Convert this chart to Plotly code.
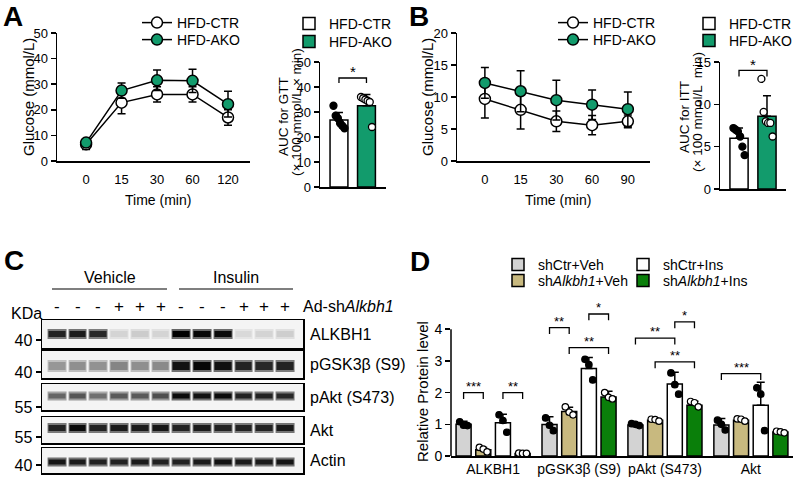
import numpy as np
import plotly.graph_objects as go

W, H = 796, 477
FONT = "Liberation Sans, Arial, Helvetica, sans-serif"
GREEN_A = "#129b6c"
GRAY_D = "#d3d3d3"
TAN_D = "#c8b97f"
GREEN_D = "#0a7f0a"

# ---------------- Panel A : GTT ----------------
GTT_TIME = ["0", "15", "30", "60", "120"]
GTT_CTR = [6.5, 22.8, 26.0, 26.0, 17.0]
GTT_CTR_ERR = [2.0, 4.3, 3.0, 3.0, 3.0]
GTT_AKO = [7.2, 27.5, 31.5, 31.3, 22.2]
GTT_AKO_ERR = [1.0, 3.0, 4.0, 4.5, 5.0]
GTT_SIG = ["", "", "*", "*", ""]

AUC_GROUPS = ["HFD-CTR", "HFD-AKO"]
AUC_GTT_MEAN = [26.8, 32.5]
AUC_GTT_ERR = [3.0, 4.5]
AUC_GTT_CTR_PTS = [32.5, 28.5, 27.5, 25.5, 24.5, 23.5]
AUC_GTT_AKO_PTS = [36.0, 35.5, 35.0, 34.5, 34.0, 24.0]
AUC_GTT_BRACKET = 43.6

# ---------------- Panel B : ITT ----------------
ITT_TIME = ["0", "15", "30", "60", "90"]
ITT_CTR = [9.7, 8.0, 6.2, 5.6, 6.2]
ITT_CTR_ERR = [3.0, 3.0, 1.6, 1.5, 1.0]
ITT_AKO = [12.2, 10.9, 9.5, 8.8, 8.1]
ITT_AKO_ERR = [2.4, 3.2, 3.1, 2.3, 2.7]
ITT_SIG = ["", "", "", "*", "*"]

AUC_ITT_MEAN = [6.0, 8.6]
AUC_ITT_ERR = [1.2, 2.4]
AUC_ITT_CTR_PTS = [7.2, 7.0, 6.8, 6.2, 5.0, 4.0]
AUC_ITT_AKO_PTS = [13.0, 9.1, 8.0, 7.8, 7.8, 6.2]
AUC_ITT_BRACKET = 14.0

# ---------------- Panel C : western blot ----------------
LANES = list(range(1, 13))
AD_SH = ["-", "-", "-", "+", "+", "+", "-", "-", "-", "+", "+", "+"]
BLOT_NAMES = ["ALKBH1", "pGSK3β (S9)", "pAkt (S473)", "Akt", "Actin"]
BLOT_KDA = ["40", "40", "55", "55", "40"]
BLOT_ALKBH1 = [0.85, 0.88, 0.82, 0.12, 0.15, 0.12, 1.0, 0.97, 0.95, 0.10, 0.12, 0.14]
BLOT_PGSK3B = [0.35, 0.38, 0.37, 0.42, 0.38, 0.40, 0.92, 0.97, 0.93, 0.85, 0.82, 0.85]
BLOT_PAKT = [0.55, 0.62, 0.50, 0.60, 0.60, 0.65, 0.95, 0.92, 0.95, 0.85, 0.85, 0.82]
BLOT_AKT = [0.85, 0.95, 0.85, 0.88, 0.88, 0.90, 0.85, 0.88, 0.85, 0.85, 0.85, 0.88]
BLOT_ACTIN = [0.90, 0.88, 0.85, 0.85, 0.88, 0.85, 0.85, 0.88, 0.92, 0.88, 0.88, 0.90]

# ---------------- Panel D : quantification ----------------
D_GROUPS = ["ALKBH1", "pGSK3β (S9)", "pAkt (S473)", "Akt"]
D_CONDS = ["shCtr+Veh", "sh<i>Alkbh1</i>+Veh", "shCtr+Ins", "sh<i>Alkbh1</i>+Ins"]
SHCTR_VEH = [1.0, 0.99, 0.98, 0.98]
SHCTR_VEH_ERR = [0.10, 0.25, 0.04, 0.20]
SHCTR_VEH_PTS = [[1.08, 0.97, 0.96], [1.20, 0.97, 0.80], [1.02, 1.00, 0.96], [1.13, 1.00, 0.82]]
SHALK_VEH = [0.20, 1.40, 1.13, 1.13]
SHALK_VEH_ERR = [0.07, 0.14, 0.05, 0.06]
SHALK_VEH_PTS = [[0.27, 0.22, 0.13], [1.55, 1.38, 1.30], [1.16, 1.15, 1.10], [1.17, 1.16, 1.10]]
SHCTR_INS = [1.05, 2.76, 2.27, 1.60]
SHCTR_INS_ERR = [0.27, 0.35, 0.37, 0.73]
SHCTR_INS_PTS = [[1.30, 1.12, 0.75], [3.05, 2.88, 2.40], [2.62, 2.25, 1.95], [2.15, 1.95, 0.80]]
SHALK_INS = [0.08, 1.86, 1.60, 0.76]
SHALK_INS_ERR = [0.02, 0.18, 0.13, 0.05]
SHALK_INS_PTS = [[0.09, 0.08, 0.08], [2.00, 1.85, 1.80], [1.72, 1.68, 1.55], [0.78, 0.76, 0.73]]
# (group, bar_i, bar_j, level, label)
D_SIG = [
    (0, 0, 1, 2.00, "***"), (0, 2, 3, 2.00, "**"),
    (1, 0, 1, 4.05, "**"), (1, 1, 3, 3.42, "**"), (1, 2, 3, 4.48, "*"),
    (2, 0, 2, 3.72, "**"), (2, 2, 3, 4.23, "*"), (2, 1, 3, 2.97, "**"),
    (3, 0, 2, 2.60, "***"),
]


def PX(p):
    return p / W


def PY(p):
    return 1 - p / H


fig = go.Figure()
ann = []
shapes = []


def text(x, y, s, size=14, xref="paper", yref="paper", xanchor="center", yanchor="middle",
         angle=0, bold=False):
    if bold:
        s = "<b>" + s + "</b>"
    ann.append(dict(x=x, y=y, text=s, xref=xref, yref=yref, showarrow=False,
                    xanchor=xanchor, yanchor=yanchor, textangle=angle,
                    font=dict(size=size, family=FONT, color="black")))


ERR = dict(type="data", color="black", thickness=1.5, width=4)


def line_panel(n, times, ctr, ctr_err, ako, ako_err, sig, legends):
    xa, ya = "x" + n, "y" + n
    fig.add_trace(go.Scatter(x=times, y=ctr, mode="lines+markers", name="HFD-CTR",
                             line=dict(color="black", width=1.5),
                             marker=dict(size=11, color="white", line=dict(color="black", width=1.5)),
                             error_y=dict(ERR, array=ctr_err), xaxis=xa, yaxis=ya, legend=legends[0]))
    fig.add_trace(go.Scatter(x=times, y=ako, mode="lines+markers", name="HFD-AKO",
                             line=dict(color="black", width=1.5),
                             marker=dict(size=11, color=GREEN_A, line=dict(color="black", width=1.5)),
                             error_y=dict(ERR, array=ako_err), xaxis=xa, yaxis=ya, legend=legends[1]))
    return [(t, max(a + ae, c + ce), s) for t, a, ae, c, ce, s in
            zip(times, ako, ako_err, ctr, ctr_err, sig) if s]


def auc_panel(n, means, errs, ctr_pts, ako_pts, bracket, drop, legends):
    xa, ya = "x" + n, "y" + n
    for i, (name, col) in enumerate(zip(AUC_GROUPS, ["white", GREEN_A])):
        fig.add_trace(go.Bar(x=[i], y=[means[i]], width=0.65, name=name,
                             marker=dict(color=col, line=dict(color="black", width=1.5)),
                             error_y=dict(ERR, array=[errs[i]], arrayminus=[0], symmetric=False),
                             xaxis=xa, yaxis=ya, legend=legends[i]))
    for i, (pts, col) in enumerate(zip([ctr_pts, ako_pts], ["black", "white"])):
        off = np.linspace(-0.2, 0.2, len(pts))
        fig.add_trace(go.Scatter(x=i + off, y=pts, mode="markers", showlegend=False,
                                 marker=dict(size=7, color=col, line=dict(color="black", width=1.3)),
                                 xaxis=xa, yaxis=ya))
    fig.add_trace(go.Scatter(x=[0, 0, 1, 1], y=[bracket - drop, bracket, bracket, bracket - drop],
                             mode="lines", line=dict(color="black", width=1.3), showlegend=False,
                             xaxis=xa, yaxis=ya))


AX = dict(showline=True, linecolor="black", linewidth=1.5, ticks="outside", ticklen=5,
          tickwidth=1.5, tickcolor="black", showgrid=False, zeroline=False,
          tickfont=dict(size=13, family=FONT, color="black"))
layout_axes = {}

# ---- A line ----
sigA = line_panel("", GTT_TIME, GTT_CTR, GTT_CTR_ERR, GTT_AKO, GTT_AKO_ERR, GTT_SIG, ["legend", "legend2"])
for t, top, s in sigA:
    text(t, top + 2.2, s, size=15, xref="x", yref="y")
layout_axes["xaxis"] = dict(AX, type="category", categoryarray=GTT_TIME, range=[-0.82, 4.62],
                            ticks="", ticklabelstandoff=6, domain=[PX(57), PX(250)], anchor="y")
layout_axes["yaxis"] = dict(AX, range=[0, 50], dtick=10, domain=[PY(161), PY(33)], anchor="x")

# ---- A AUC ----
auc_panel("2", AUC_GTT_MEAN, AUC_GTT_ERR, AUC_GTT_CTR_PTS, AUC_GTT_AKO_PTS, AUC_GTT_BRACKET, 2.0,
          ["legend3", "legend4"])
text(0.5, AUC_GTT_BRACKET + 2.5, "*", size=15, xref="x2", yref="y2")
layout_axes["xaxis2"] = dict(AX, range=[-0.69, 1.71], ticks="", showticklabels=False,
                             domain=[PX(320), PX(386)], anchor="y2")
layout_axes["yaxis2"] = dict(AX, range=[0, 50], dtick=10, domain=[PY(187), PY(62)], anchor="x2")

# ---- B line ----
sigB = line_panel("3", ITT_TIME, ITT_CTR, ITT_CTR_ERR, ITT_AKO, ITT_AKO_ERR, ITT_SIG, ["legend5", "legend6"])
for t, top, s in sigB:
    text(t, top + 2.4, s, size=15, xref="x3", yref="y3")
layout_axes["xaxis3"] = dict(AX, type="category", categoryarray=ITT_TIME, range=[-0.78, 4.62],
                             ticks="", ticklabelstandoff=6, domain=[PX(457), PX(650)], anchor="y3")
layout_axes["yaxis3"] = dict(AX, range=[0, 20], dtick=5, domain=[PY(161), PY(33)], anchor="x3")

# ---- B AUC ----
auc_panel("4", AUC_ITT_MEAN, AUC_ITT_ERR, AUC_ITT_CTR_PTS, AUC_ITT_AKO_PTS, AUC_ITT_BRACKET, 0.7,
          ["legend7", "legend8"])
text(0.5, AUC_ITT_BRACKET + 0.75, "*", size=15, xref="x4", yref="y4")
layout_axes["xaxis4"] = dict(AX, range=[-0.68, 1.68], ticks="", showticklabels=False,
                             domain=[PX(720), PX(786)], anchor="y4")
layout_axes["yaxis4"] = dict(AX, range=[0, 15], dtick=5, domain=[PY(189), PY(62)], anchor="x4")

# ---- C blots ----
BLOT_DATA = [BLOT_ALKBH1, BLOT_PGSK3B, BLOT_PAKT, BLOT_AKT, BLOT_ACTIN]
# styling: box top, box bottom, band centre, band thickness, kDa tick (pixels)
BLOT_STYLE = [(320, 348, 334, 6, 340), (351, 378, 366, 8, 372), (384, 410, 396, 5, 407),
              (417, 443, 428, 6, 437), (448, 473, 462, 5, 465)]
BLOT_CS = [[0, "#f3f3f3"], [0.5, "#707070"], [1, "#000000"]]
for k, (vals, (top, bot, cen, th, tk), kda, name) in enumerate(zip(BLOT_DATA, BLOT_STYLE, BLOT_KDA, BLOT_NAMES)):
    n = str(5 + k)
    hb = bot - top
    c = cen - top
    fig.add_trace(go.Heatmap(x=LANES, y=[c - th / 2 - 2, c + th / 2 + 2], z=[[v * 0.55 for v in vals]],
                             zmin=0, zmax=1, colorscale=BLOT_CS, showscale=False, xgap=2,
                             hoverinfo="skip", xaxis="x" + n, yaxis="y" + n))
    fig.add_trace(go.Heatmap(x=LANES, y=[c - th / 2, c + th / 2], z=[vals],
                             zmin=0, zmax=1, colorscale=BLOT_CS, showscale=False, xgap=4,
                             hoverinfo="skip", xaxis="x" + n, yaxis="y" + n))
    layout_axes["xaxis" + n] = dict(AX, range=[0.28, 12.87], ticks="", showticklabels=False, mirror=True,
                                    domain=[PX(42), PX(303)], anchor="y" + n)
    layout_axes["yaxis" + n] = dict(AX, range=[hb, 0], mirror=True, tickvals=[tk - top], ticktext=[kda],
                                    tickfont=dict(size=16, family=FONT, color="black"),
                                    domain=[PY(bot), PY(top)], anchor="x" + n)
    shapes.append(dict(type="rect", xref="x%s domain" % n, yref="y%s domain" % n, x0=0, x1=1, y0=0, y1=1,
                       fillcolor="#f4f4f4", line=dict(width=0), layer="below"))
    text(PX(308), PY((top + bot) / 2), name, size=16, xanchor="left")

for lane, s in zip(LANES, AD_SH):
    text(lane, PY(306), s, size=17, xref="x5")
text(PX(301), PY(306), "Ad-sh<i>Alkbh1</i>", size=16, xanchor="left")
text(PX(26), PY(313), "KDa", size=16)
text(PX(110), PY(277), "Vehicle", size=16)
text(PX(236), PY(277), "Insulin", size=16)
for x0, x1 in [(52, 167), (179, 293)]:
    shapes.append(dict(type="line", xref="paper", yref="paper", x0=PX(x0), x1=PX(x1), y0=PY(289), y1=PY(289),
                       line=dict(color="black", width=1.2)))

# ---- D quantification ----
D_MEANS = [SHCTR_VEH, SHALK_VEH, SHCTR_INS, SHALK_INS]
D_ERRS = [SHCTR_VEH_ERR, SHALK_VEH_ERR, SHCTR_INS_ERR, SHALK_INS_ERR]
D_PTS = [SHCTR_VEH_PTS, SHALK_VEH_PTS, SHCTR_INS_PTS, SHALK_INS_PTS]
D_COLORS = [GRAY_D, TAN_D, "white", GREEN_D]
D_DOT = ["black", "white", "black", "white"]
D_LEGENDS = ["legend9", "legend10", "legend11", "legend12"]
STEP, BW = 0.229, 0.175
gidx = np.arange(len(D_GROUPS))
for ci, (name, m, e, pts, col, dot, lg) in enumerate(zip(D_CONDS, D_MEANS, D_ERRS, D_PTS, D_COLORS, D_DOT, D_LEGENDS)):
    xs = gidx + (ci - 1.5) * STEP
    fig.add_trace(go.Bar(x=xs, y=m, width=BW, name=name,
                         marker=dict(color=col, line=dict(color="black", width=1.5)),
                         error_y=dict(ERR, array=e, arrayminus=[0] * len(e), symmetric=False),
                         xaxis="x10", yaxis="y10", legend=lg))
    px_, py_ = [], []
    for g, p in enumerate(pts):
        off = np.linspace(-0.045, 0.045, len(p))
        px_ += list(xs[g] + off)
        py_ += p
    fig.add_trace(go.Scatter(x=px_, y=py_, mode="markers", showlegend=False,
                             marker=dict(size=6.5, color=dot, line=dict(color="black", width=1.2)),
                             xaxis="x10", yaxis="y10"))
for g, i, j, lvl, lab in D_SIG:
    xi = g + (i - 1.5) * STEP
    xj = g + (j - 1.5) * STEP
    fig.add_trace(go.Scatter(x=[xi, xi, xj, xj], y=[lvl - 0.2, lvl, lvl, lvl - 0.2], mode="lines",
                             line=dict(color="black", width=1.3), showlegend=False,
                             xaxis="x10", yaxis="y10"))
    text((xi + xj) / 2, lvl + 0.2, lab, size=13, xref="x10", yref="y10")
layout_axes["xaxis10"] = dict(AX, range=[-0.49, 3.49], ticks="", tickvals=list(gidx), ticktext=D_GROUPS,
                              tickfont=dict(size=14, family=FONT, color="black"),
                              domain=[PX(451), PX(793)], anchor="y10")
layout_axes["yaxis10"] = dict(AX, range=[0, 4.9], showline=False, tickvals=[0, 1, 2, 3, 4],
                              tickfont=dict(size=14, family=FONT, color="black"),
                              domain=[PY(456), PY(456 - 4.9 * 31.7)], anchor="x10")
shapes.append(dict(type="line", xref="x10 domain", yref="y10", x0=0, x1=0, y0=0, y1=4,
                   line=dict(color="black", width=1.5)))

# ---- axis titles / panel letters ----
text(PX(28), PY(97), "Glucose (mmol/L)", size=15, angle=-90)
text(PX(158), PY(200), "Time (min)", size=14)
text(PX(284), PY(117), "AUC for GTT", size=13.5, angle=-90)
text(PX(297), PY(112), "(× 100 mmol/L × min)", size=13.5, angle=-90)
text(PX(427), PY(97), "Glucose (mmol/L)", size=15, angle=-90)
text(PX(558), PY(200), "Time (min)", size=14)
text(PX(685), PY(117), "AUC for ITT", size=13.5, angle=-90)
text(PX(698), PY(112), "(× 100 mmol/L  min)", size=13.5, angle=-90)
text(PX(422), PY(392), "Relative Protein level", size=15, angle=-90)
text(PX(13), PY(17), "A", size=28, bold=True)
text(PX(419), PY(17), "B", size=28, bold=True)
text(PX(14), PY(260), "C", size=28, bold=True)
text(PX(420), PY(261), "D", size=28, bold=True)

LEG = dict(xanchor="left", yanchor="top", bgcolor="rgba(0,0,0,0)", tracegroupgap=0,
           font=dict(size=14, family=FONT, color="black"), itemwidth=30)
LEG_POS = {
    "legend": (137, 7), "legend2": (137, 24),
    "legend3": (289, 8), "legend4": (289, 26),
    "legend5": (553, 7), "legend6": (553, 24),
    "legend7": (689, 8), "legend8": (689, 25),
    "legend9": (498, 249), "legend10": (498, 265),
    "legend11": (623, 249), "legend12": (623, 265),
}
legends = {k: dict(LEG, x=PX(v[0]), y=PY(v[1])) for k, v in LEG_POS.items()}

fig.update_layout(
    width=W, height=H, margin=dict(l=0, r=0, t=0, b=0, pad=0, autoexpand=False),
    plot_bgcolor="white", paper_bgcolor="white", barmode="overlay",
    font=dict(family=FONT, color="black"),
    annotations=ann, shapes=shapes,
    **legends,
    **layout_axes,
)
fig.write_html("out.html", config={"staticPlot": True, "displayModeBar": False},
               post_script="document.body.style.margin='0px';document.body.style.overflow='hidden';")
